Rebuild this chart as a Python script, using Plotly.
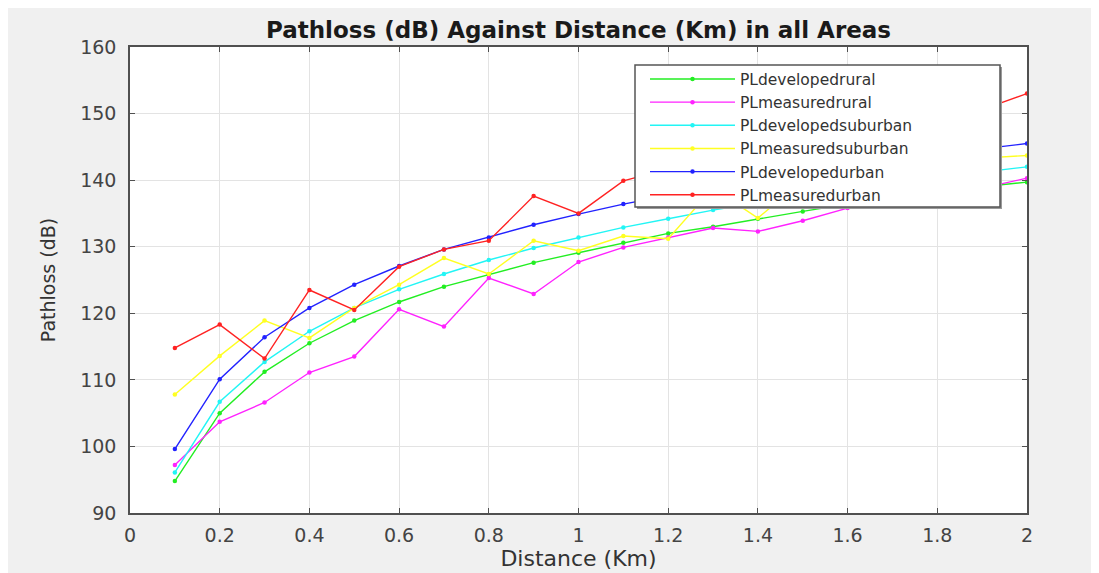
import plotly.graph_objects as go

distance_km = [0.1, 0.2, 0.3, 0.4, 0.5, 0.6, 0.7, 0.8, 0.9, 1.0,
               1.1, 1.2, 1.3, 1.4, 1.5, 1.6, 1.7, 1.8, 1.9, 2.0]

pl_developed_rural = [94.8, 105.0, 111.2, 115.5, 118.9, 121.7, 124.0, 125.8, 127.6, 129.1,
                      130.6, 132.0, 133.0, 134.2, 135.3, 136.4, 137.3, 138.2, 139.0, 139.7]
pl_measured_rural = [97.2, 103.7, 106.6, 111.1, 113.5, 120.6, 118.0, 125.3, 122.9, 127.7,
                     129.9, 131.4, 132.8, 132.3, 133.9, 135.8, 137.0, 137.6, 138.8, 140.3]
pl_developed_suburban = [96.1, 106.7, 112.7, 117.3, 120.8, 123.6, 125.9, 128.0, 129.8, 131.4,
                         132.9, 134.2, 135.5, 136.6, 137.6, 138.6, 139.5, 140.4, 141.2, 142.0]
pl_measured_suburban = [107.8, 113.6, 118.9, 116.3, 120.8, 124.3, 128.3, 125.9, 130.9, 129.4,
                        131.6, 131.2, 138.8, 134.3, 140.0, 140.6, 141.8, 142.4, 143.3, 143.7]
pl_developed_urban = [99.6, 110.1, 116.4, 120.8, 124.3, 127.1, 129.6, 131.4, 133.3, 134.9,
                      136.4, 137.7, 138.9, 140.1, 141.1, 142.1, 143.0, 143.9, 144.7, 145.5]
pl_measured_urban = [114.8, 118.3, 113.2, 123.5, 120.5, 127.0, 129.6, 130.9, 137.6, 135.0,
                     139.9, 141.7, 143.0, 142.5, 145.0, 146.0, 147.5, 148.5, 150.6, 153.0]

series_names = ["PLdevelopedrural", "PLmeasuredrural", "PLdevelopedsuburban",
                "PLmeasuredsuburban", "PLdevelopedurban", "PLmeasuredurban"]
series_values = [pl_developed_rural, pl_measured_rural, pl_developed_suburban,
                 pl_measured_suburban, pl_developed_urban, pl_measured_urban]
series_colors = ["#22ee22", "#ff22ff", "#22f5f5", "#ffff22", "#2222ff", "#ff2222"]

x_ticks = [0, 0.2, 0.4, 0.6, 0.8, 1, 1.2, 1.4, 1.6, 1.8, 2]
x_tick_labels = ["0", "0.2", "0.4", "0.6", "0.8", "1", "1.2", "1.4", "1.6", "1.8", "2"]
y_ticks = [90, 100, 110, 120, 130, 140, 150, 160]

FONT = "DejaVu Sans"

# plot area in page pixels (page has an 8 px body margin)
PL, PR, PT, PB = 130, 1027, 47, 513
PW, PH = PR - PL, PB - PT

fig = go.Figure()
for name, vals, col in zip(series_names, series_values, series_colors):
    fig.add_trace(go.Scatter(
        x=distance_km, y=vals, name=name, mode="lines+markers",
        line=dict(color=col, width=1.4),
        marker=dict(color=col, size=4.5),
    ))

axis_common = dict(
    showline=True, linecolor="#505050", linewidth=1.5, mirror="ticks",
    ticks="inside", ticklen=5, tickcolor="#505050", tickwidth=1,
    showgrid=True, gridcolor="#e3e3e3", gridwidth=1, zeroline=False,
    tickfont=dict(family=FONT, size=19, color="#444444"),
)

def px_x(p):
    return (p - PL) / PW

def px_y(p):
    return 1 - (p - PT) / PH

fig.update_layout(
    width=1091, height=573,
    margin=dict(l=122, r=72, t=39, b=68),
    paper_bgcolor="#f0f0f0",
    plot_bgcolor="#ffffff",
    title=dict(text="<b>Pathloss (dB) Against Distance (Km) in all Areas</b>",
               x=570.5 / 1091, xanchor="center",
               y=1 - 22 / 573, yanchor="middle",
               font=dict(family=FONT, size=23, color="#1a1a1a")),
    xaxis=dict(range=[0, 2], tickvals=x_ticks, ticktext=x_tick_labels,
               ticklabelstandoff=4,
               title=dict(text="Distance (Km)", standoff=6,
                          font=dict(family=FONT, size=22, color="#333333")),
               **axis_common),
    yaxis=dict(range=[90, 160], tickvals=y_ticks,
               ticklabelstandoff=8,
               title=dict(text="Pathloss (dB)", standoff=20,
                          font=dict(family=FONT, size=19, color="#333333")),
               **axis_common),
    legend=dict(x=px_x(645), y=px_y(62.4), xanchor="left", yanchor="top",
                bgcolor="rgba(0,0,0,0)", borderwidth=0,
                font=dict(family=FONT, size=15.5, color="#333333"),
                itemwidth=85, tracegroupgap=0),
    showlegend=True,
    shapes=[
        # legend frame (MATLAB style box with slight shadow)
        dict(type="rect", xref="paper", yref="paper", layer="above",
             x0=px_x(637), x1=px_x(1002), y0=px_y(209), y1=px_y(67),
             fillcolor="#9a9a9a", line=dict(width=0)),
        dict(type="rect", xref="paper", yref="paper", layer="above",
             x0=px_x(635), x1=px_x(1000), y0=px_y(207), y1=px_y(65),
             fillcolor="#ffffff", line=dict(color="#555555", width=1.5)),
    ],
)

fig.write_html("out.html")
